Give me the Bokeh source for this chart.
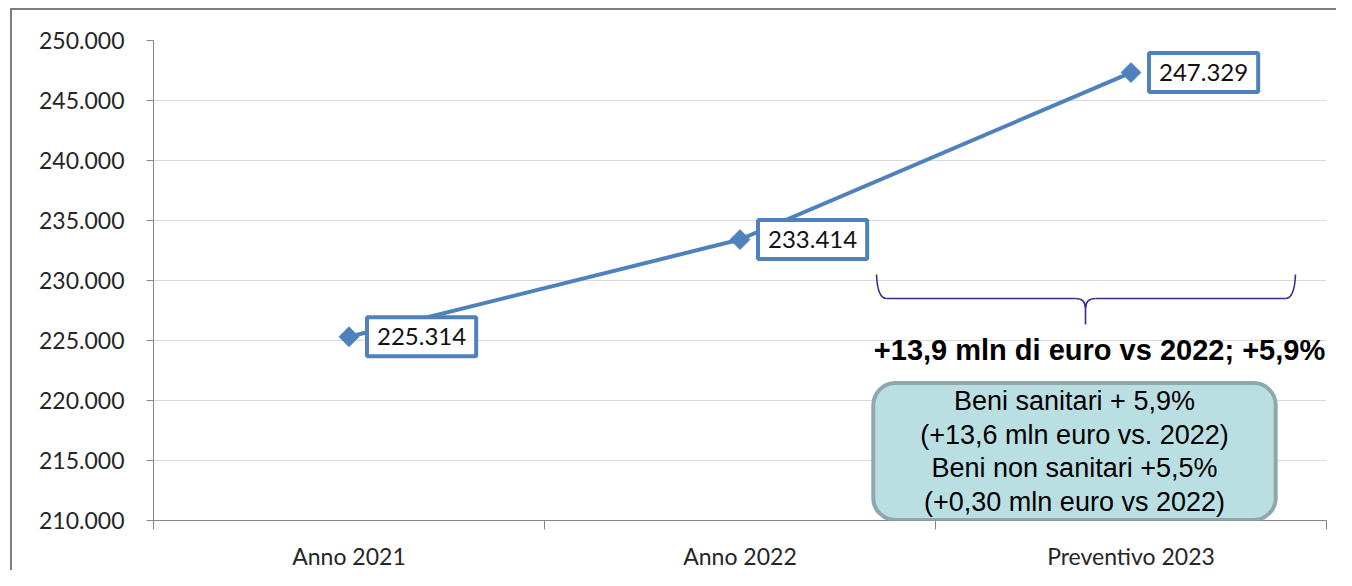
from bokeh.plotting import figure
from bokeh.models import Range1d, FixedTicker, CustomJSTickFormatter, Label, ColumnDataSource
from bokeh.embed import file_html
from bokeh.resources import INLINE

# ---- data ----
categories = ["Anno 2021", "Anno 2022", "Preventivo 2023"]
values = [225314, 233414, 247329]
y_ticks = [210000, 215000, 220000, 225000, 230000, 235000, 240000, 245000, 250000]
brace_text = "+13,9 mln di euro vs 2022; +5,9%"
box_lines = ["Beni sanitari + 5,9%", "(+13,6 mln euro vs. 2022)",
             "Beni non sanitari +5,5%", "(+0,30 mln euro vs 2022)"]

BLUE = "#4F81BD"
GRAY = "#868686"

n = len(categories)
xs = [i + 0.5 for i in range(n)]
labels_txt = [f"{v:,}".replace(",", ".") for v in values]
src = ColumnDataSource(dict(x=xs, y=values, label=labels_txt))

FRAME_L, FRAME_T, FRAME_W, FRAME_H = 141, 30, 1173, 480
W, H = 1326, 562
p = figure(width=W, height=H, x_range=Range1d(0, n), y_range=Range1d(y_ticks[0], y_ticks[-1]),
           output_backend="svg", toolbar_location=None,
           min_border_left=FRAME_L, min_border_top=FRAME_T,
           min_border_right=W - FRAME_L - FRAME_W, min_border_bottom=H - FRAME_T - FRAME_H)
p.styles = {"border-left": "2px solid #7f7f7f", "border-top": "2px solid #7f7f7f",
            "margin-left": "10px", "margin-top": "8px"}
p.outline_line_color = None
p.background_fill_color = "white"

# helpers mapping frame pixel positions (reference image) to data, for decorations
def X(px):
    return (px - 153) / FRAME_W * n
def Y(py):
    return y_ticks[-1] - (py - 41) / FRAME_H * (y_ticks[-1] - y_ticks[0])

# axes
p.yaxis.ticker = FixedTicker(ticks=y_ticks)
p.yaxis.formatter = CustomJSTickFormatter(code="return tick.toString().replace(/\\B(?=(\\d{3})+(?!\\d))/g, '.');")
p.yaxis.axis_line_color = GRAY
p.yaxis.major_tick_line_color = GRAY
p.yaxis.major_tick_out = 7
p.yaxis.major_tick_in = 0
p.yaxis.minor_tick_line_color = None
p.yaxis.major_label_standoff = 22
p.yaxis.major_label_text_font = "Lato"
p.yaxis.major_label_text_font_size = "23px"
p.yaxis.major_label_text_color = "#262626"

p.xaxis.ticker = FixedTicker(ticks=xs, minor_ticks=[i for i in range(n + 1)])
p.xaxis.major_label_overrides = {x: c for x, c in zip(xs, categories)}
p.xaxis.axis_line_color = GRAY
p.xaxis.major_tick_line_color = None
p.xaxis.major_tick_out = 0
p.xaxis.major_tick_in = 0
p.xaxis.minor_tick_line_color = GRAY
p.xaxis.minor_tick_out = 9
p.xaxis.minor_tick_in = 0
p.xaxis.major_label_standoff = 12
p.xaxis.major_label_text_font = "Lato"
p.xaxis.major_label_text_font_size = "23px"
p.xaxis.major_label_text_color = "#262626"

p.xgrid.grid_line_color = None
p.ygrid.ticker = FixedTicker(ticks=y_ticks)
p.ygrid.grid_line_color = "#D9D9D9"
p.ygrid.grid_line_width = 1

# series
p.line("x", "y", source=src, line_color=BLUE, line_width=4)
p.scatter("x", "y", source=src, marker="square", angle=0.785398, size=14,
          fill_color=BLUE, line_color=BLUE)

# data labels
for x, y, t in zip(xs, values, labels_txt):
    p.add_layout(Label(x=x, y=y, text=t, x_offset=18, text_align="left", text_baseline="middle",
                       text_font="Lato", text_font_size="24px", text_color="#111111",
                       background_fill_color="white", border_line_color=BLUE, border_line_width=4,
                       padding=dict(x=10, y=11)))

# brace
BR = "#2E3192"
bx0, bx1, bxm = 876, 1295, 1085
by0, by1, by2, by3 = 275, 299, 309, 325
p.quadratic(x0=[X(bx0), X(bxm + 10), X(bx1)], y0=[Y(by0), Y(by1), Y(by0)],
            x1=[X(bx0 + 10), X(bxm), X(bx1 - 10)], y1=[Y(by1), Y(by2), Y(by1)],
            cx=[X(bx0 + 1), X(bxm), X(bx1 - 1)], cy=[Y(by1), Y(by1), Y(by1)],
            line_color=BR, line_width=1.6)
p.quadratic(x0=[X(bxm - 10)], y0=[Y(by1)], x1=[X(bxm)], y1=[Y(by2)], cx=[X(bxm)], cy=[Y(by1)],
            line_color=BR, line_width=1.6)
p.segment(x0=[X(bx0 + 10), X(bxm + 10), X(bxm)], y0=[Y(by1), Y(by1), Y(by2)],
          x1=[X(bxm - 10), X(bx1 - 10), X(bxm)], y1=[Y(by1), Y(by1), Y(by3)],
          line_color=BR, line_width=1.6)

p.add_layout(Label(x=X(1099), y=Y(350), text=brace_text, text_align="center", text_baseline="middle",
                   text_font="Liberation Sans", text_font_style="bold", text_font_size="29px",
                   text_color="black"))

# rounded note box
p.add_layout(Label(x=X(1074), y=Y(452), text="\n".join(box_lines), text_align="center",
                   text_baseline="middle", text_font="Liberation Sans", text_font_size="27px",
                   text_line_height=1.12, text_color="black",
                   background_fill_color="#BADFE3", border_line_color="#8FA9AA", border_line_width=4,
                   border_radius=22, padding=dict(x=47, y=3)))

open("out.html", "w").write(file_html(p, INLINE))
